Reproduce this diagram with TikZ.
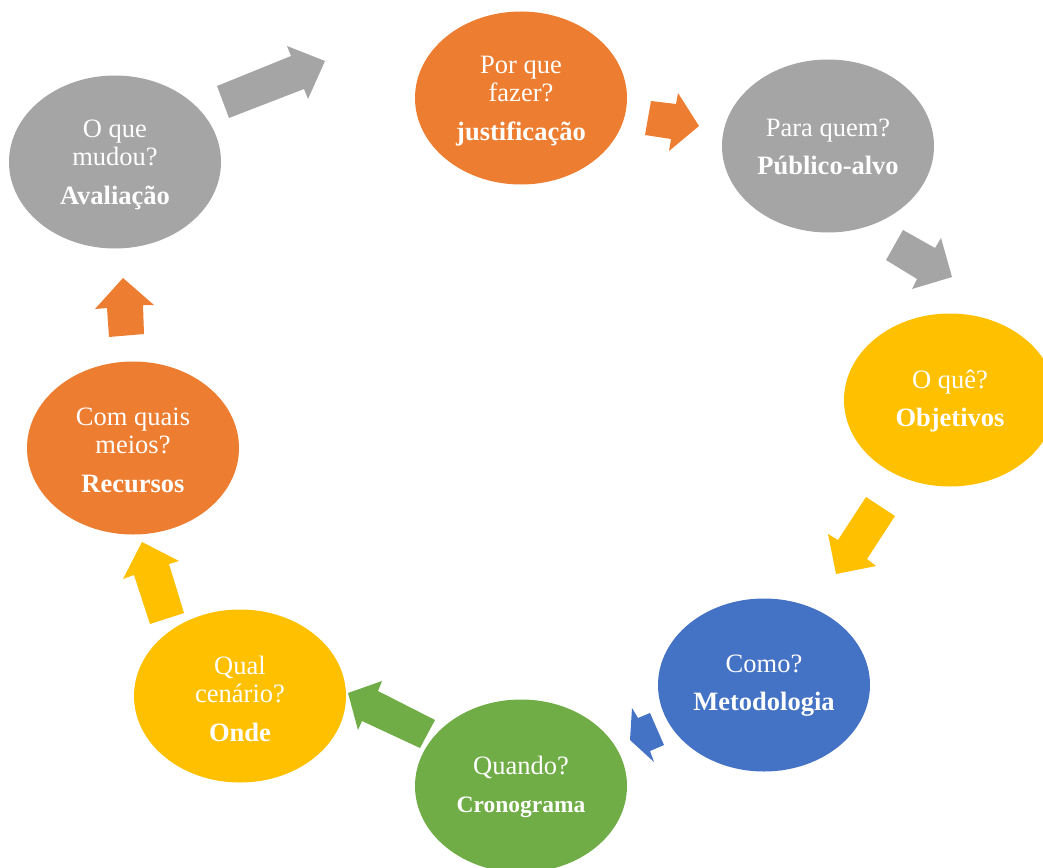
\documentclass[tikz,border=0pt]{standalone}
\usepackage{fontspec}
\setmainfont{Liberation Serif}
\usetikzlibrary{shapes.geometric}
\definecolor{corange}{HTML}{ED7D31}
\definecolor{cgray}{HTML}{A5A5A5}
\definecolor{cyellow}{HTML}{FFC000}
\definecolor{cblue}{HTML}{4472C4}
\definecolor{cgreen}{HTML}{70AD47}
\begin{document}
\begin{tikzpicture}[x=1pt,y=-1pt,
  bubble/.style={ellipse, minimum width=212pt, minimum height=173pt, inner sep=0pt},
  txt/.style={inner sep=0pt, text=white, align=center, font=\fontsize{26.5}{28}\selectfont},
  blockarrow/.style={draw=none}]
\clip (0,0) rectangle (1043,867);
% bubbles
\node[bubble, fill=corange] (porque) at (521,98) {};
\node[bubble, fill=cgray] (paraquem) at (828,146) {};
\node[bubble, fill=cyellow] (oque) at (950,400) {};
\node[bubble, fill=cblue] (como) at (764,685) {};
\node[bubble, fill=cgreen] (quando) at (521,786) {};
\node[bubble, fill=cyellow] (qual) at (240,696) {};
\node[bubble, fill=corange] (comquais) at (133,448) {};
\node[bubble, fill=cgray] (oquemudou) at (115,162) {};
% texts
\node[txt] (porqueT) at ([yshift=-3pt]porque.center) {Por que\\fazer?\\[11pt]\textbf{justificação}};
\node[txt] (paraquemT) at ([yshift=-1pt]paraquem.center) {Para quem?\\[10pt]\textbf{Público-alvo}};
\node[txt] (oqueT) at ([yshift=-1pt]oque.center) {O quê?\\[10pt]\textbf{Objetivos}};
\node[txt] (comoT) at ([yshift=-1pt]como.center) {Como?\\[10pt]\textbf{Metodologia}};
\node[txt] (quandoT) at ([yshift=-1pt]quando.center) {Quando?\\[10pt]{\fontsize{23.5}{28}\selectfont\textbf{Cronograma}}};
\node[txt] (qualT) at ([yshift=-3pt]qual.center) {Qual\\cenário?\\[11pt]\textbf{Onde}};
\node[txt] (comquaisT) at ([yshift=-2pt]comquais.center) {Com quais\\meios?\\[11pt]\textbf{Recursos}};
\node[txt] (oquemudouT) at ([yshift=-3pt]oquemudou.center) {O que\\mudou?\\[11pt]\textbf{Avaliação}};
% block arrows
\fill[cgray, blockarrow] (217,86) -- (291,56) -- (287,46) -- (325,61) -- (308,99) -- (304,89) -- (229,118) -- cycle;
\fill[corange, blockarrow] (651,101) -- (676,104) -- (678,93) -- (699,126) -- (669,151) -- (671,139) -- (645,135) -- cycle;
\fill[cgray, blockarrow] (903,230) -- (935,248) -- (941,238) -- (952,277) -- (912,289) -- (917,279) -- (886,260) -- cycle;
\fill[cyellow, blockarrow] (866,497) -- (895,516) -- (867,559) -- (876,566) -- (836,574) -- (828,534) -- (838,540) -- cycle;
\fill[cblue, blockarrow] (650,713) -- (664,745) -- (650,751) -- (654,762) -- (630,740) -- (632,708) -- (638,718) -- cycle;
\fill[cgreen, blockarrow] (348,693) -- (382,681) -- (378,691) -- (435,720) -- (420,748) -- (362,721) -- (358,730) -- cycle;
\fill[cyellow, blockarrow] (142,542) -- (179,561) -- (169,564) -- (184,613) -- (150,624) -- (134,575) -- (123,579) -- cycle;
\fill[corange, blockarrow] (109,337) -- (107,308) -- (95,309) -- (123,278) -- (154,305) -- (143,305) -- (144,334) -- cycle;
\end{tikzpicture}
\end{document}
